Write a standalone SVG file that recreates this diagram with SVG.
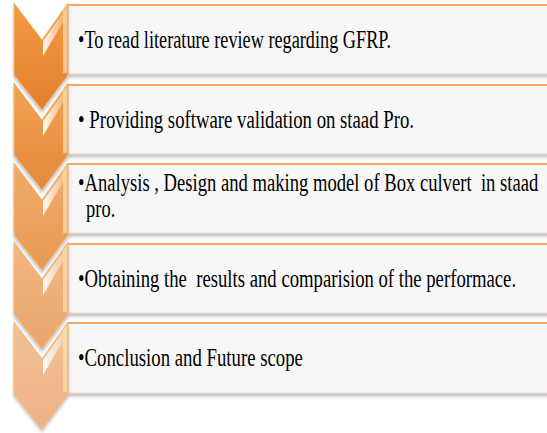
<svg xmlns="http://www.w3.org/2000/svg" width="547" height="433" viewBox="0 0 547 433">
  <defs>
    <filter id="shadow" x="-20%" y="-20%" width="140%" height="150%">
      <feDropShadow dx="0" dy="3" stdDeviation="1.8" flood-color="#7a7a7a" flood-opacity="0.45"/>
    </filter>
    <linearGradient id="g1" x1="0" y1="0" x2="0" y2="1">
      <stop offset="0" stop-color="#f59a42"/>
      <stop offset="1" stop-color="#e27f2c"/>
    </linearGradient>
    <linearGradient id="g2" x1="0" y1="0" x2="0" y2="1">
      <stop offset="0" stop-color="#f1a252"/>
      <stop offset="1" stop-color="#e4893e"/>
    </linearGradient>
    <linearGradient id="g3" x1="0" y1="0" x2="0" y2="1">
      <stop offset="0" stop-color="#f0ac69"/>
      <stop offset="1" stop-color="#e69954"/>
    </linearGradient>
    <linearGradient id="g4" x1="0" y1="0" x2="0" y2="1">
      <stop offset="0" stop-color="#f2b781"/>
      <stop offset="1" stop-color="#e9a56e"/>
    </linearGradient>
    <linearGradient id="g5" x1="0" y1="0" x2="0" y2="1">
      <stop offset="0" stop-color="#f3c298"/>
      <stop offset="1" stop-color="#ecb183"/>
    </linearGradient>
    <linearGradient id="shine" x1="0" y1="0" x2="1" y2="0">
      <stop offset="0" stop-color="#ffffff" stop-opacity="0.95"/>
      <stop offset="1" stop-color="#ffffff" stop-opacity="0.2"/>
    </linearGradient>
    <path id="chev" d="M14,0 L42,37 L68,0 L68,72 L42,107 L14,72 Z"/>
  </defs>
  <style>
    .box { fill: #f7f7f7; stroke: #f7d9bb; stroke-width: 1; }
    .edge { fill: none; stroke: #f6a867; stroke-width: 2; }
    .chev { stroke: #f6b877; stroke-width: 1; }
    .shine { fill: url(#shine); }
    .rim { fill: #fbe6b6; opacity: 0.65; }
    .label { font-family: "Liberation Serif", "Times New Roman", serif; font-size: 25px; fill: #000; white-space: pre; }
  </style>

  <!-- text panels -->
  <g id="box1" filter="url(#shadow)">
    <rect class="box" x="68" y="5" width="485" height="69"/>
    <line class="edge" x1="68" y1="5" x2="547" y2="5"/>
  </g>
  <g id="box2" filter="url(#shadow)">
    <rect class="box" x="68" y="85" width="485" height="69"/>
    <line class="edge" x1="68" y1="85" x2="547" y2="85"/>
  </g>
  <g id="box3" filter="url(#shadow)">
    <rect class="box" x="68" y="164" width="485" height="69"/>
    <line class="edge" x1="68" y1="164" x2="547" y2="164"/>
  </g>
  <g id="box4" filter="url(#shadow)">
    <rect class="box" x="68" y="244" width="485" height="69"/>
    <line class="edge" x1="68" y1="244" x2="547" y2="244"/>
  </g>
  <g id="box5" filter="url(#shadow)">
    <rect class="box" x="68" y="323" width="485" height="70"/>
    <line class="edge" x1="68" y1="323" x2="547" y2="323"/>
  </g>

  <!-- chevron column -->
  <g id="chevron1" transform="translate(0,3)">
    <use href="#chev" class="chev" fill="url(#g1)" filter="url(#shadow)"/>
    <polygon class="shine" points="43,38 65,7 65,16 43,53"/>
    <polygon class="rim" points="63,8 67,3 67,70 63,70"/>
  </g>
  <g id="chevron2" transform="translate(0,83)">
    <use href="#chev" class="chev" fill="url(#g2)" filter="url(#shadow)"/>
    <polygon class="shine" points="43,38 65,7 65,16 43,53"/>
    <polygon class="rim" points="63,8 67,3 67,70 63,70"/>
  </g>
  <g id="chevron3" transform="translate(0,163)">
    <use href="#chev" class="chev" fill="url(#g3)" filter="url(#shadow)"/>
    <polygon class="shine" points="43,38 65,7 65,16 43,53"/>
    <polygon class="rim" points="63,8 67,3 67,70 63,70"/>
  </g>
  <g id="chevron4" transform="translate(0,242)">
    <use href="#chev" class="chev" fill="url(#g4)" filter="url(#shadow)"/>
    <polygon class="shine" points="43,38 65,7 65,16 43,53"/>
    <polygon class="rim" points="63,8 67,3 67,70 63,70"/>
  </g>
  <g id="chevron5" transform="translate(0,322)">
    <use href="#chev" class="chev" fill="url(#g5)" filter="url(#shadow)"/>
    <polygon class="shine" points="43,38 65,7 65,16 43,53"/>
    <polygon class="rim" points="63,8 67,3 67,70 63,70"/>
  </g>

  <!-- panel labels (narrow serif) -->
  <g id="labels">
    <text class="label" transform="translate(78,48) scale(0.74,1)" textLength="423" lengthAdjust="spacingAndGlyphs">•To read literature review regarding GFRP.</text>
    <text class="label" transform="translate(78,128) scale(0.74,1)" textLength="454" lengthAdjust="spacingAndGlyphs">• Providing software validation on staad Pro.</text>
    <text class="label" transform="translate(78,191) scale(0.74,1)" textLength="622" lengthAdjust="spacingAndGlyphs">•Analysis , Design and making model of Box culvert  in staad</text>
    <text class="label" transform="translate(86,217) scale(0.74,1)">pro.</text>
    <text class="label" transform="translate(78,287) scale(0.74,1)" textLength="592" lengthAdjust="spacingAndGlyphs">•Obtaining the  results and comparision of the performace.</text>
    <text class="label" transform="translate(78,366) scale(0.74,1)" textLength="304" lengthAdjust="spacingAndGlyphs">•Conclusion and Future scope</text>
  </g>
</svg>
